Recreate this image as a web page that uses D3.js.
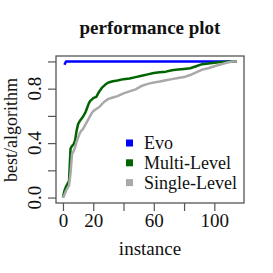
<!DOCTYPE html>
<html>
<head>
<meta charset="utf-8">
<script src="https://cdn.jsdelivr.net/npm/d3@7"></script>
<style>
  body { margin: 0; background: #fff; }
  text { font-family: "Liberation Serif", "Times New Roman", serif; fill: #111; }
</style>
</head>
<body>
<svg id="chart" width="273" height="273"></svg>
<script>
// data (instance, best/algorithm)
const evoInst = [1, 2, 115];
const evoVal = [0.975, 1.0, 1.0];

const multiInst = [0, 1, 2, 3, 4, 5, 6, 7, 8, 9, 10, 11, 12, 13, 14, 15, 16, 17, 18, 19, 20, 22, 24, 26, 28, 30, 33, 36, 40, 44, 48, 52, 56, 60, 64, 68, 72, 76, 80, 84, 88, 92, 96, 100, 104, 108, 110, 115];
const multiVal = [0.0, 0.05, 0.08, 0.1, 0.12, 0.36, 0.38, 0.39, 0.42, 0.49, 0.54, 0.56, 0.575, 0.59, 0.61, 0.63, 0.66, 0.69, 0.71, 0.72, 0.73, 0.74, 0.78, 0.81, 0.83, 0.845, 0.855, 0.86, 0.87, 0.875, 0.885, 0.895, 0.905, 0.915, 0.92, 0.925, 0.935, 0.94, 0.945, 0.95, 0.965, 0.98, 0.985, 0.99, 0.995, 0.998, 1.0, 1.0];

const singleInst = [0, 1, 2, 3, 4, 5, 6, 7, 8, 9, 10, 11, 12, 13, 14, 15, 16, 17, 18, 19, 20, 22, 24, 26, 28, 30, 33, 36, 40, 44, 48, 52, 56, 60, 64, 68, 72, 76, 80, 84, 88, 92, 96, 100, 104, 108, 112, 115];
const singleVal = [0.0, 0.02, 0.05, 0.07, 0.09, 0.18, 0.32, 0.34, 0.37, 0.41, 0.44, 0.47, 0.49, 0.5, 0.52, 0.54, 0.56, 0.58, 0.6, 0.62, 0.635, 0.65, 0.665, 0.69, 0.71, 0.725, 0.735, 0.745, 0.765, 0.78, 0.795, 0.82, 0.835, 0.845, 0.852, 0.862, 0.87, 0.878, 0.885, 0.9, 0.92, 0.94, 0.95, 0.965, 0.978, 0.99, 1.0, 1.0];

const seriesNames = ["Evo", "Multi-Level", "Single-Level"];
const seriesColors = ["#0000ff", "#006400", "#a9a9a9"];

const xTicks = [0, 20, 40, 60, 80, 100];
const xTickLabels = ["0", "20", "", "60", "", "100"];
const yTicks = [0, 0.2, 0.4, 0.6, 0.8, 1.0];
const yTickLabels = ["0.0", "", "0.4", "", "0.8", ""];

const svg = d3.select("#chart");

const x = d3.scaleLinear().domain([-4.6, 119.6]).range([56, 244]);
const y = d3.scaleLinear().domain([-0.04, 1.04]).range([203, 56]);

// title
svg.append("text")
  .attr("x", 150).attr("y", 34)
  .attr("text-anchor", "middle")
  .attr("font-size", 19).attr("font-weight", "bold")
  .text("performance plot");

// lines
const series = [
  { inst: evoInst, val: evoVal },
  { inst: multiInst, val: multiVal },
  { inst: singleInst, val: singleVal },
];

const line = d3.line()
  .x((d) => x(d[0]))
  .y((d) => y(d[1]));

series.forEach((s, i) => {
  svg.append("path")
    .datum(s.inst.map((v, j) => [v, s.val[j]]))
    .attr("fill", "none")
    .attr("stroke", seriesColors[i])
    .attr("stroke-width", 2.5)
    .attr("stroke-linejoin", "round")
    .attr("d", line);
});

// box
svg.append("rect")
  .attr("x", x.range()[0]).attr("y", y.range()[1])
  .attr("width", x.range()[1] - x.range()[0])
  .attr("height", y.range()[0] - y.range()[1])
  .attr("fill", "none")
  .attr("stroke", "#555")
  .attr("stroke-width", 1.3);

// x axis
const xAxis = svg.append("g")
  .attr("transform", `translate(0,${y.range()[0]})`)
  .call(d3.axisBottom(x).tickValues(xTicks).tickSize(8).tickPadding(3)
    .tickFormat((d, i) => xTickLabels[i]));
xAxis.select(".domain").remove();
xAxis.selectAll("line").attr("stroke", "#555").attr("stroke-width", 1.2);
xAxis.selectAll("text")
  .attr("font-family", "Liberation Serif").attr("font-size", 19).attr("fill", "#111");

// y axis
const yAxis = svg.append("g")
  .attr("transform", `translate(${x.range()[0]},0)`)
  .call(d3.axisLeft(y).tickValues(yTicks).tickSize(8).tickFormat(() => ""));
yAxis.select(".domain").remove();
yAxis.selectAll("line").attr("stroke", "#555").attr("stroke-width", 1.2);

yTicks.forEach((t, i) => {
  if (!yTickLabels[i]) return;
  svg.append("text")
    .attr("transform", `translate(41,${y(t)}) rotate(-90)`)
    .attr("text-anchor", "middle")
    .attr("font-size", 19)
    .text(yTickLabels[i]);
});

// axis titles
svg.append("text")
  .attr("x", 150).attr("y", 255)
  .attr("text-anchor", "middle")
  .attr("font-size", 19)
  .text("instance");

svg.append("text")
  .attr("transform", "translate(17,130) rotate(-90)")
  .attr("text-anchor", "middle")
  .attr("font-size", 18)
  .text("best/algorithm");

// legend
const legend = svg.append("g");
seriesNames.forEach((name, i) => {
  const cy = 143 + i * 19.8;
  legend.append("rect")
    .attr("x", 126).attr("y", cy - 3.5)
    .attr("width", 7).attr("height", 7)
    .attr("fill", seriesColors[i]);
  legend.append("text")
    .attr("x", 144).attr("y", cy)
    .attr("dy", "0.35em")
    .attr("font-size", 18)
    .text(name);
});
</script>
</body>
</html>
